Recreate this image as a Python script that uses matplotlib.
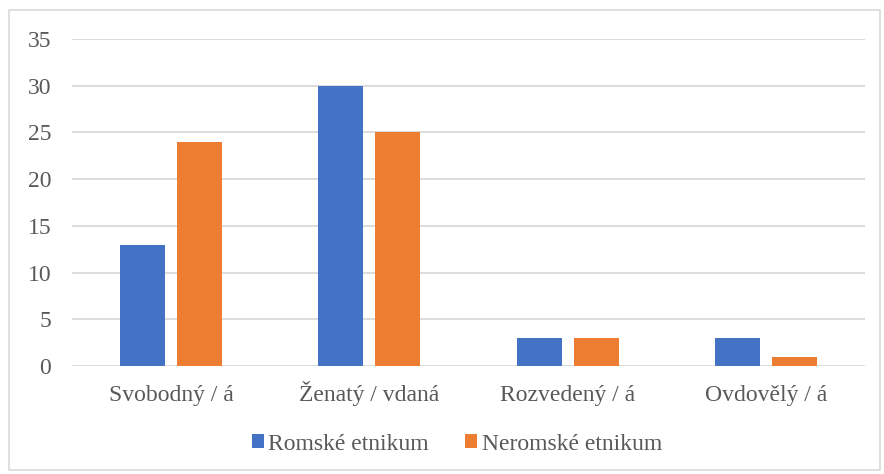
import numpy as np
import matplotlib.pyplot as plt
from matplotlib.patches import Rectangle

categories = ["Svobodný / á", "Ženatý / vdaná", "Rozvedený / á", "Ovdovělý / á"]
romske = [13, 30, 3, 3]
neromske = [24, 25, 3, 1]
series_names = ["Romské etnikum", "Neromské etnikum"]

plt.rcParams["font.family"] = ["Liberation Serif", "DejaVu Serif"]
txt = "#595959"

fig = plt.figure(figsize=(8.84, 4.74), dpi=100)
fig.patches.append(Rectangle((9 / 884, 4 / 474), 871 / 884, 460 / 474,
                             transform=fig.transFigure, fill=False,
                             edgecolor="#d9d9d9", linewidth=1.2))
ax = fig.add_axes([72 / 884, 108 / 474, 793 / 884, 327 / 474])

x = np.arange(len(categories))
w = 0.227
off = 0.144
ax.bar(x - off, romske, w, color="#4472C4", label=series_names[0], zorder=3)
ax.bar(x + off, neromske, w, color="#ED7D31", label=series_names[1], zorder=3)

ax.set_xlim(-0.5, len(categories) - 0.5)
ax.set_ylim(0, 35)
ax.set_yticks(range(0, 36, 5))
ax.set_xticks(x)
ax.set_xticklabels(categories)
ax.grid(axis="y", color="#d9d9d9", linewidth=1.3, zorder=0)
for s in ax.spines.values():
    s.set_visible(False)
ax.tick_params(axis="both", length=0, labelsize=17, colors=txt)
ax.tick_params(axis="x", pad=25)
ax.tick_params(axis="y", pad=15)
for lab in ax.get_xticklabels():
    lab.set_verticalalignment("baseline")

leg = fig.legend(loc="center", bbox_to_anchor=(457 / 884, 30 / 474), ncol=2,
                 frameon=False, fontsize=17, handlelength=0.5,
                 handleheight=0.5, handletextpad=0.2, columnspacing=1.55)
for t in leg.get_texts():
    t.set_color(txt)

fig.savefig("out.png", dpi=100)
